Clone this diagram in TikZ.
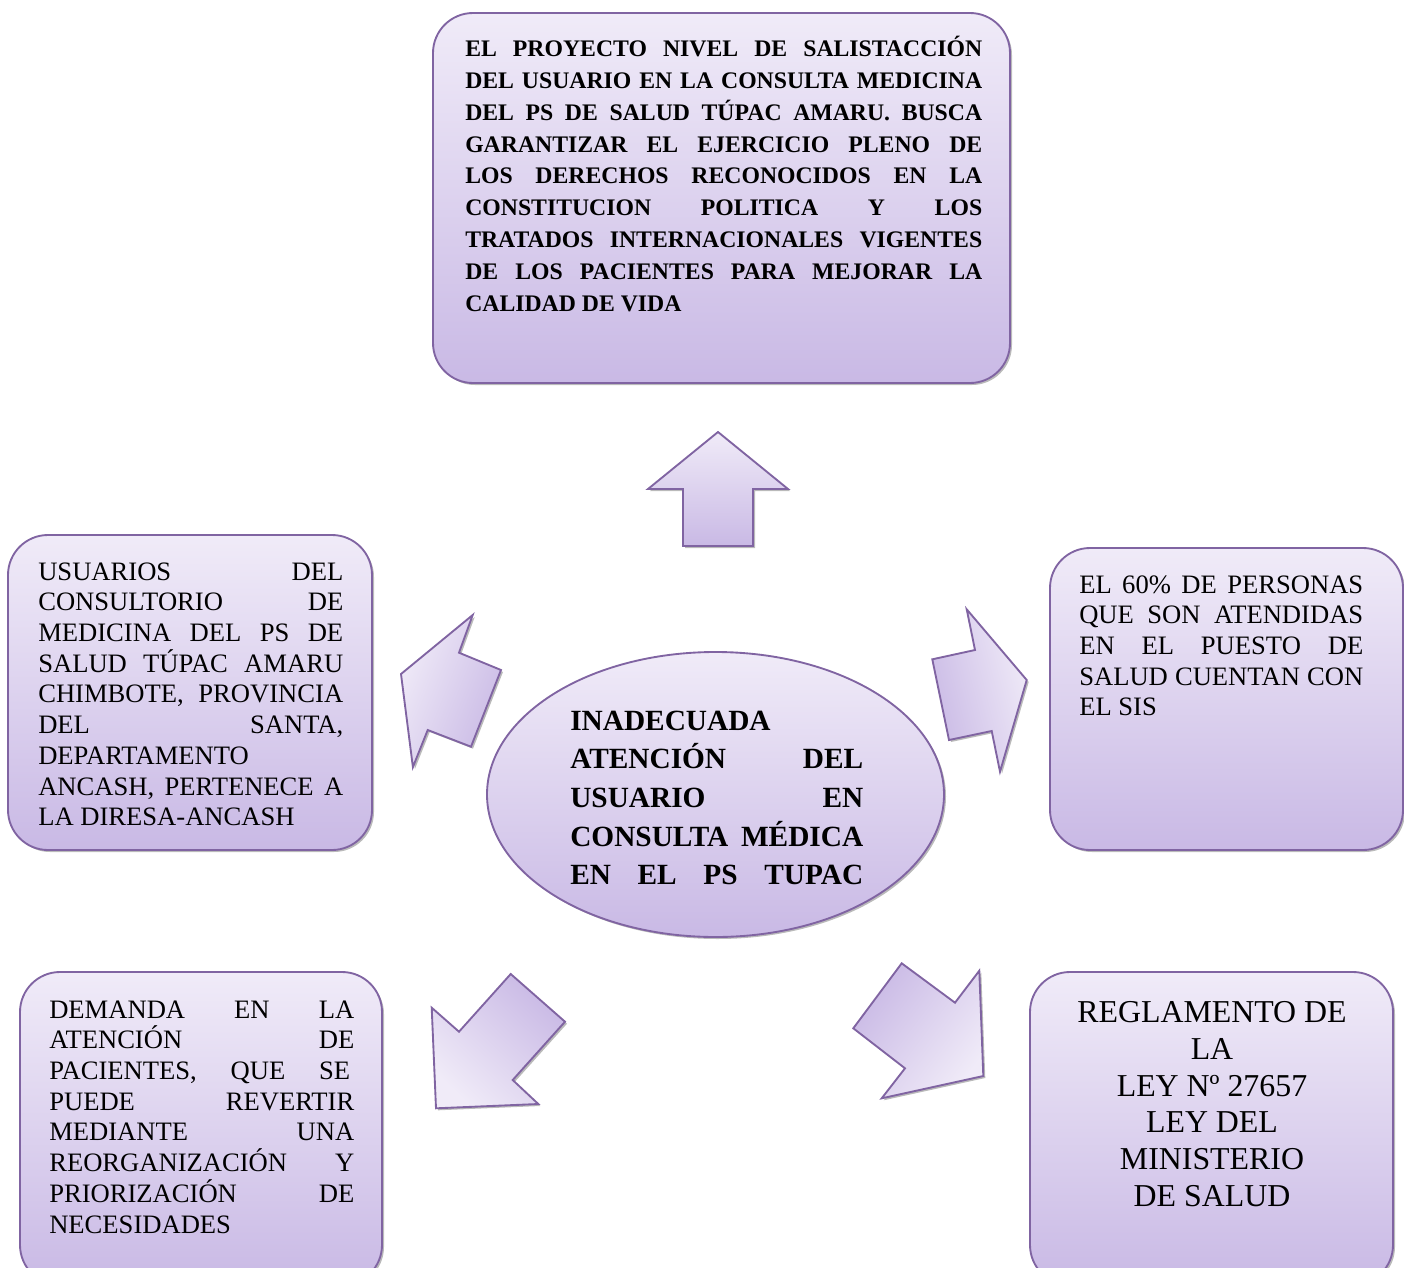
\documentclass[tikz,border=0pt]{standalone}
\usepackage{fontspec}
\setmainfont{Liberation Serif}
\usetikzlibrary{shadows,shapes.geometric}
\definecolor{lavtop}{RGB}{240,235,248}
\definecolor{lavbot}{RGB}{201,185,229}
\definecolor{lavedge}{RGB}{128,100,162}
\newcommand\jl[1]{\makebox[\linewidth][s]{#1}}
\begin{document}
\begin{tikzpicture}[x=0.75pt,y=-0.75pt,
  shp/.style={draw=lavedge, line width=1.4pt, top color=lavtop, bottom color=lavbot,
    drop shadow={shadow xshift=1.5pt, shadow yshift=-1.5pt, fill=black!60, opacity=.45}},
  pbox/.style={shp, rectangle, rounded corners=30pt, inner sep=0pt},
  oval/.style={shp, ellipse, inner sep=0pt},
  txt/.style={inner sep=0pt, text=black},
  blk/.style={shp, line join=miter}]
\useasboundingbox (0,0) rectangle (1404,1268);

% boxes
\node[pbox, minimum width=432.75pt, minimum height=277.5pt] (top) at (721.5,198) {};
\node[pbox, minimum width=273pt, minimum height=236.25pt] (left) at (190,692.5) {};
\node[pbox, minimum width=264.75pt, minimum height=226.5pt] (right) at (1226.5,699) {};
\node[pbox, minimum width=271.5pt, minimum height=234.75pt] (bl) at (201,1128.5) {};
\node[pbox, minimum width=272.25pt, minimum height=234.75pt] (br) at (1211.5,1128.5) {};
\node[oval, minimum width=342.75pt, minimum height=213.75pt] (ctr) at (715.5,794.5) {};

% block arrows
\draw[blk, shading angle=0] (718,432) -- (788,489) -- (753,489) -- (753,546) -- (683,546) -- (683,489) -- (648,489) -- cycle;
\draw[blk, shading angle=68] (472.7,615) -- (459,652.7) -- (501,670) -- (471,746.7) -- (427.7,730) -- (412.9,767.1) -- (401,674) -- cycle;
\draw[blk, shading angle=-76] (966.7,609.3) -- (975,650) -- (932.3,659.3) -- (949,740) -- (991.7,731) -- (1000,771.7) -- (1026.7,680) -- cycle;
\draw[blk, shading angle=136] (510.7,974) -- (565,1021.7) -- (512.7,1080) -- (538.3,1104) -- (436,1108.3) -- (431.7,1007.7) -- (459,1031.7) -- cycle;
\draw[blk, shading angle=233] (901.7,963.3) -- (955,1002.7) -- (979.3,970.7) -- (983.3,1076) -- (881.7,1098.3) -- (905,1068.3) -- (853.3,1028.3) -- cycle;

% texts
\node[txt, anchor=base west] (toptxt) at (465,56.5) {\parbox[t]{387.75pt}{\fontsize{17.8pt}{23.9pt}\selectfont\bfseries
\jl{EL PROYECTO NIVEL DE SALISTACCIÓN}\\
\jl{DEL USUARIO EN LA CONSULTA MEDICINA}\\
\jl{DEL PS DE SALUD TÚPAC AMARU. BUSCA}\\
\jl{GARANTIZAR EL EJERCICIO PLENO DE}\\
\jl{LOS DERECHOS RECONOCIDOS EN LA}\\
\jl{CONSTITUCION POLITICA Y LOS}\\
\jl{TRATADOS INTERNACIONALES VIGENTES}\\
\jl{DE LOS PACIENTES PARA MEJORAR LA}\\
CALIDAD DE VIDA}};

\node[txt, anchor=base west] (lefttxt) at (38,580) {\parbox[t]{228.75pt}{\fontsize{19.95pt}{23.06pt}\selectfont
\jl{USUARIOS DEL}\\
\jl{CONSULTORIO DE}\\
\jl{MEDICINA DEL PS DE}\\
\jl{SALUD TÚPAC AMARU}\\
\jl{CHIMBOTE, PROVINCIA}\\
\jl{DEL SANTA,}\\
DEPARTAMENTO\\
\jl{ANCASH, PERTENECE A}\\
LA DIRESA-ANCASH}};

\node[txt, anchor=base west] (righttxt) at (1079,593) {\parbox[t]{213pt}{\fontsize{19.95pt}{23.06pt}\selectfont
\jl{EL 60\% DE PERSONAS}\\
\jl{QUE SON ATENDIDAS}\\
\jl{EN EL PUESTO DE}\\
\jl{SALUD CUENTAN CON}\\
EL SIS}};

\node[txt, anchor=base west] (ctrtxt) at (570,730) {\parbox[t]{219.75pt}{\fontsize{22pt}{29.06pt}\selectfont\bfseries
INADECUADA\\
\jl{ATENCIÓN DEL}\\
\jl{USUARIO EN}\\
\jl{CONSULTA MÉDICA}\\
\jl{EN EL PS TUPAC}}};

\node[txt, anchor=base west] (bltxt) at (49,1018) {\parbox[t]{228.75pt}{\fontsize{19.95pt}{23.06pt}\selectfont
\jl{DEMANDA EN LA}\\
\jl{ATENCIÓN DE}\\
\jl{PACIENTES, QUE SE\hspace{3pt}}\\
\jl{PUEDE REVERTIR}\\
\jl{MEDIANTE UNA}\\
\jl{REORGANIZACIÓN Y}\\
\jl{PRIORIZACIÓN DE}\\
NECESIDADES}};

\node[txt, anchor=base] (brtxt) at (1212,1022.5) {\parbox[t]{260pt}{\centering\fontsize{23.9pt}{27.6pt}\selectfont
REGLAMENTO DE\\
LA\\
LEY Nº 27657\\
LEY DEL\\
MINISTERIO\\
DE SALUD}};
\end{tikzpicture}
\end{document}
